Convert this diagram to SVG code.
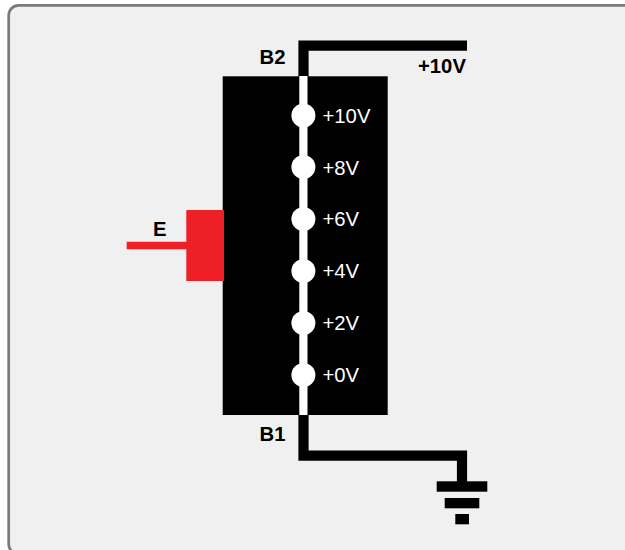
<svg xmlns="http://www.w3.org/2000/svg" width="625" height="550" viewBox="0 0 625 550">
<style>
text{font-family:"Liberation Sans",Arial,sans-serif;font-size:20.300px}
.b{font-weight:bold;fill:#000}
.w{fill:#fff}
.k{fill:#000}
.r{fill:#ee1f26}
</style>
<rect width="625" height="550" fill="#fff"/>
<rect id="frame" x="8.700" y="5.300" width="640" height="549" rx="10" fill="#f0f0f0" stroke="#7a7a7a" stroke-width="2.700"/>
<g id="connectors">
<path d="M303.500 77V45.700H467" fill="none" stroke="#000" stroke-width="10.200"/>
<path d="M303.500 414V455.700H462V482" fill="none" stroke="#000" stroke-width="10.200"/>
<path d="M126.700 245.500H187" fill="none" stroke="#ee1f26" stroke-width="7.600"/>
</g>
<g id="resistor">
<rect class="k" x="222.700" y="76.300" width="165" height="338.700"/>
<rect class="w" x="299.300" y="76" width="8.200" height="339"/>
<circle class="w" cx="303.400" cy="115.600" r="12"/>
<circle class="w" cx="303.400" cy="167" r="12"/>
<circle class="w" cx="303.400" cy="219" r="12"/>
<circle class="w" cx="303.400" cy="271" r="12"/>
<circle class="w" cx="303.400" cy="323" r="12"/>
<circle class="w" cx="303.400" cy="375" r="12"/>
<text class="w" x="322.500" y="122.800">+10V</text>
<text class="w" x="322.500" y="174.500">+8V</text>
<text class="w" x="322.500" y="225.500">+6V</text>
<text class="w" x="322.500" y="277.500">+4V</text>
<text class="w" x="322.500" y="330">+2V</text>
<text class="w" x="322.500" y="381.500">+0V</text>
</g>
<g id="wiper"><rect class="r" x="186.300" y="210" width="37.700" height="71"/><text class="b" x="153" y="236">E</text></g>
<g id="ground">
<rect class="k" x="436.700" y="481.300" width="50.600" height="10.400"/>
<rect class="k" x="444.700" y="498" width="34.600" height="10.300"/>
<rect class="k" x="455.300" y="514" width="13.700" height="10.300"/>
</g>
<text id="b2" class="b" x="259.500" y="63.500">B2</text>
<text id="b1" class="b" x="259.500" y="440.500">B1</text>
<text id="v10" class="b" x="418" y="72.500">+10V</text>
</svg>
